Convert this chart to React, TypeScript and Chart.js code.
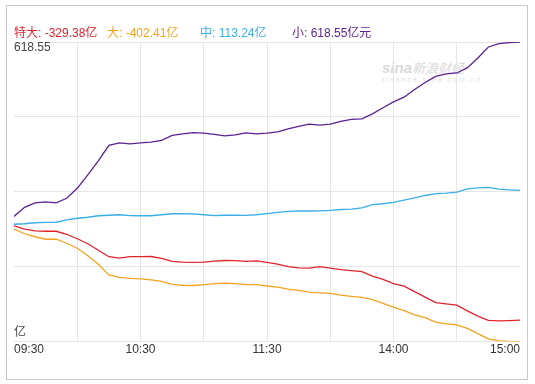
import { useEffect, useRef } from 'react';
import { Chart, registerables } from 'chart.js';

Chart.register(...registerables);

// minutes since 09:30 (trading minutes, lunch break removed)
const minutes = [0, 5, 10, 15, 20, 25, 30, 35, 40, 45, 50, 55, 60, 65, 70, 75, 80, 85, 90, 95, 100, 105, 110, 115, 120, 125, 130, 135, 140, 145, 150, 155, 160, 165, 170, 175, 180, 185, 190, 195, 200, 205, 210, 215, 220, 225, 230, 235, 240];

const gridMinutes = [0, 30, 60, 90, 120, 150, 180, 210, 240];
const xTickMinutes = [0, 60, 120, 180, 240];
const xTickLabels = ['09:30', '10:30', '11:30', '14:00', '15:00'];

// 特大 (super large orders)
const superLarge = [-7.6, -19.5, -25.3, -26.4, -26.4, -36.6, -51.9, -68.9, -91.0, -113.1, -118.2, -113.1, -113.1, -112.4, -118.9, -129.1, -131.9, -132.5, -131.9, -128.5, -126.1, -126.7, -129.1, -127.4, -132.5, -138.7, -147.2, -151.3, -152.3, -147.2, -151.9, -157.4, -160.8, -164.2, -179.5, -190.4, -205.0, -213.5, -232.3, -250.9, -269.7, -274.1, -278.2, -297.6, -315.6, -329.9, -332.0, -331.0, -329.38];
// 大 (large orders)
const large = [-18.9, -34.9, -45.1, -53.6, -52.9, -67.2, -84.2, -109.7, -138.7, -175.4, -183.6, -186.7, -189.0, -192.4, -197.5, -207.1, -210.5, -211.2, -208.1, -205.0, -203.3, -205.0, -208.1, -208.4, -212.9, -216.9, -223.7, -227.8, -233.9, -236.3, -238.4, -244.2, -248.2, -252.0, -259.5, -272.1, -285.0, -296.9, -311.2, -320.7, -336.1, -341.8, -345.6, -357.5, -375.2, -393.2, -400.0, -401.7, -402.41];
// 中 (medium orders)
const medium = [-2.5, -0.8, 2.6, 3.6, 4.3, 12.1, 17.9, 21.3, 26.4, 28.1, 29.8, 27.1, 26.4, 26.4, 29.8, 33.2, 33.9, 32.5, 29.8, 27.1, 28.1, 28.8, 27.4, 29.8, 33.9, 38.3, 41.4, 43.4, 42.7, 43.4, 45.1, 47.8, 49.2, 53.6, 64.5, 67.3, 72.3, 79.8, 87.7, 95.5, 101.9, 103.6, 107.0, 118.3, 121.7, 123.4, 117.3, 114.9, 113.24];
// 小 (small orders)
const small = [24.0, 55.3, 70.6, 74.0, 70.6, 86.0, 120.0, 165.9, 213.6, 266.3, 274.8, 271.4, 274.8, 277.2, 283.3, 300.3, 305.4, 309.9, 307.8, 303.7, 298.6, 302.0, 308.9, 305.4, 307.8, 312.3, 322.5, 331.0, 338.5, 335.4, 338.8, 348.0, 354.8, 356.5, 373.5, 394.6, 414.4, 430.4, 456.9, 480.7, 501.1, 509.6, 513.0, 530.1, 564.1, 601.5, 612.8, 616.8, 618.55];

const seriesNames = ['特大', '大', '中', '小'];
const seriesColors = ['#e3232c', '#f5a31f', '#3aaee6', '#5a2290'];
const legendTexts = ['特大: -329.38亿', '大: -402.41亿', '中: 113.24亿', '小: 618.55亿元'];
const yTopLabel = '618.55';
const yUnitLabel = '亿';

const FONT = '"Liberation Sans", Arial, Helvetica, "Noto Sans CJK SC", sans-serif';

export default function App() {
  const canvasRef = useRef<HTMLCanvasElement | null>(null);

  useEffect(() => {
    const canvas = canvasRef.current;
    if (!canvas) return;
    const all = [...superLarge, ...large, ...medium, ...small];
    const yMin = Math.min(...all);
    const yMax = Math.max(...all);
    const seriesData = [superLarge, large, medium, small];

    const chart = new Chart(canvas, {
      type: 'line',
      data: {
        datasets: seriesData.map((arr, i) => ({
          label: seriesNames[i],
          data: arr.map((v, j) => ({ x: minutes[j], y: v })),
          borderColor: seriesColors[i],
          backgroundColor: seriesColors[i],
          borderWidth: 1.3,
          pointRadius: 0,
          tension: 0,
          fill: false,
        })),
      },
      options: {
        animation: false,
        responsive: false,
        maintainAspectRatio: false,
        layout: { padding: { left: 14, right: 15, top: 42, bottom: 26 } },
        plugins: { legend: { display: false }, tooltip: { enabled: false } },
        scales: {
          x: {
            type: 'linear',
            min: 0,
            max: 240,
            afterBuildTicks: (s: any) => {
              s.ticks = gridMinutes.map((v) => ({ value: v }));
            },
            ticks: {
              autoSkip: false,
              maxRotation: 0,
              align: 'inner',
              padding: 1,
              color: '#333',
              font: { size: 12, family: FONT },
              callback: (v: any) => {
                const i = xTickMinutes.indexOf(Number(v));
                return i >= 0 ? xTickLabels[i] : '';
              },
            },
            grid: {
              color: (c: any) =>
                c.tick && (c.tick.value === 0 || c.tick.value === 240) ? 'rgba(0,0,0,0)' : '#e6e6e6',
              drawTicks: false,
              lineWidth: 1,
            },
            border: { display: false },
          },
          y: {
            type: 'linear',
            min: yMin,
            max: yMax,
            afterBuildTicks: (s: any) => {
              s.ticks = [0, 1, 2, 3, 4].map((k) => ({ value: yMin + ((yMax - yMin) * k) / 4 }));
            },
            ticks: { display: false },
            grid: { color: '#e6e6e6', drawTicks: false, lineWidth: 1 },
            border: { display: false },
          },
        },
      },
    } as any);
    return () => chart.destroy();
  }, []);

  const legendLeft = [14, 107, 200, 292];

  return (
    <div
      style={{
        position: 'fixed',
        left: 0,
        top: 0,
        width: 535,
        height: 384,
        background: '#fff',
        fontFamily: FONT,
      }}
    >
      <div
        style={{
          position: 'absolute',
          left: 6,
          top: 5,
          width: 522,
          height: 375,
          boxSizing: 'border-box',
          border: '1px solid #c9c9c9',
        }}
      />
      <div
        style={{
          position: 'absolute',
          left: 382,
          top: 61,
          color: '#d9d9d9',
          whiteSpace: 'nowrap',
          fontStyle: 'italic',
          lineHeight: '14px',
        }}
      >
        <span style={{ fontSize: 15, fontWeight: 'bold' }}>sina</span>
        <span style={{ fontSize: 13 }}>新浪财经</span>
        <div style={{ fontSize: 7, lineHeight: '8px', letterSpacing: 2, color: '#e2e2e2' }}>finance.sina.com.cn</div>
      </div>
      <canvas ref={canvasRef} width={535} height={384} style={{ position: 'absolute', left: 0, top: 0, width: 535, height: 384 }} />
      {legendTexts.map((t, i) => (
        <div
          key={t}
          style={{
            position: 'absolute',
            left: legendLeft[i],
            top: 26,
            fontSize: 12,
            lineHeight: '14px',
            color: seriesColors[i],
            whiteSpace: 'nowrap',
          }}
        >
          {t}
        </div>
      ))}
      <div style={{ position: 'absolute', left: 14, top: 40, fontSize: 12, lineHeight: '14px', color: '#444' }}>
        {yTopLabel}
      </div>
      <div style={{ position: 'absolute', left: 14, top: 325, fontSize: 12, lineHeight: '14px', color: '#444' }}>
        {yUnitLabel}
      </div>
    </div>
  );
}
